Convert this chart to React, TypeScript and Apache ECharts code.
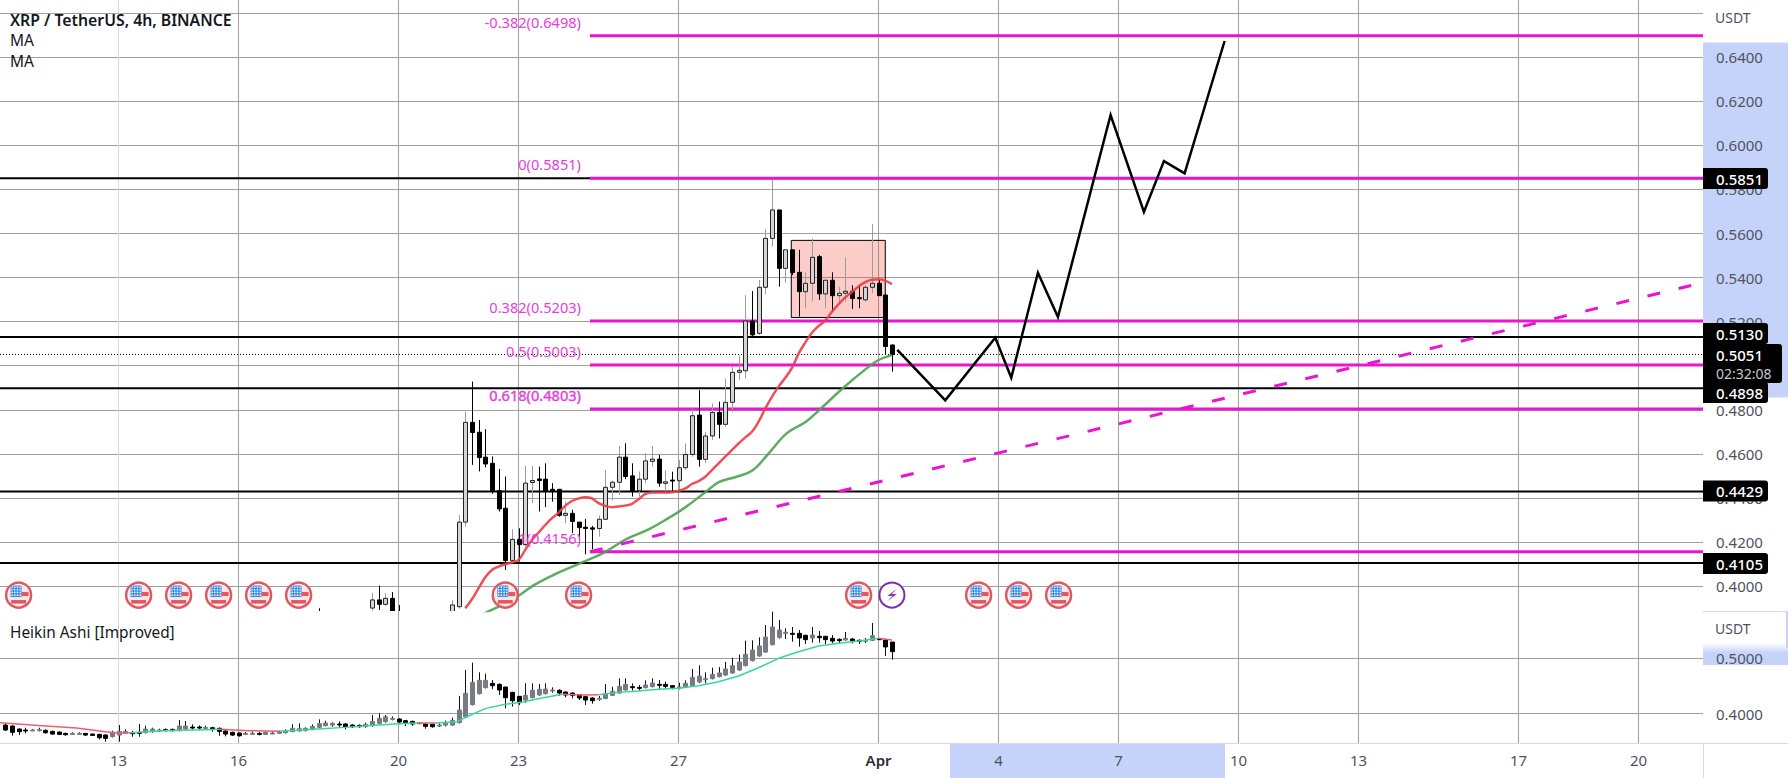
import React, { useEffect, useRef } from "react";
import * as echarts from "echarts";

const FONT = '"Noto Sans", "Open Sans", sans-serif';

// x is the 4h bar number, bar 0 = 13 March 00:00
const tickBars = [0, 18, 42, 60, 84, 114, 132, 150, 168, 186, 210, 228];
const tickLabels = ["13", "16", "20", "23", "27", "Apr", "4", "7", "10", "13", "17", "20"];
const priceTicks = [0.4, 0.42, 0.44, 0.46, 0.48, 0.5, 0.52, 0.54, 0.56, 0.58, 0.6, 0.62, 0.64, 0.66];
const priceLabels = [0.4, 0.42, 0.44, 0.46, 0.48, 0.5, 0.52, 0.54, 0.56, 0.58, 0.6, 0.62, 0.64];
const subTicks = [0.4, 0.5];

const fibLevels = [0.6498, 0.5851, 0.5203, 0.5003, 0.4803, 0.4156];
const fibLabels = ["-0.382(0.6498)", "0(0.5851)", "0.382(0.5203)", "0.5(0.5003)", "0.618(0.4803)", "1(0.4156)"];
const blackLevels = [0.5851, 0.513, 0.4898, 0.4429, 0.4105];
const lastPrice = 0.5051;
const trendLine = [[70.7, 0.4156], [236.7, 0.537]];
const forecast = [
  [116.8, 0.5072], [124, 0.4843], [131.5, 0.5127], [133.9, 0.4946], [137.9, 0.5422], [140.9, 0.5221],
  [148.8, 0.6138], [153.8, 0.5698], [156.8, 0.5929], [159.9, 0.5873], [165.9, 0.6474],
];
const boxArea = [[100.9, 0.5569, 115, 0.5219]];
const usEvents = [-15, 3, 9, 15, 21, 27, 58, 69, 111, 129, 135, 141];
const boltEvents = [116];

// [bar, open, close, low, high]
const mainBars = [
  [30, 0.386, 0.384, 0.383, 0.3899],
  [38, 0.39, 0.3937, 0.388, 0.397],
  [39, 0.3937, 0.3917, 0.3891, 0.4002],
  [40, 0.3917, 0.3944, 0.391, 0.3967],
  [41, 0.3944, 0.387, 0.385, 0.3972],
  [42, 0.388, 0.386, 0.385, 0.3914],
  [50, 0.385, 0.3914, 0.384, 0.3937],
  [51, 0.3906, 0.429, 0.3897, 0.4323],
  [52, 0.429, 0.4743, 0.427, 0.4792],
  [53, 0.4743, 0.4697, 0.455, 0.4928],
  [54, 0.4698, 0.4583, 0.452, 0.4754],
  [55, 0.4585, 0.4554, 0.4539, 0.4712],
  [56, 0.4557, 0.4433, 0.4418, 0.4588],
  [57, 0.4433, 0.435, 0.4338, 0.4532],
  [58, 0.4353, 0.4116, 0.4073, 0.4497],
  [59, 0.4116, 0.4212, 0.4103, 0.4258],
  [60, 0.4212, 0.4188, 0.4111, 0.4262],
  [61, 0.4188, 0.4467, 0.4179, 0.4545],
  [62, 0.447, 0.4479, 0.4376, 0.4545],
  [63, 0.4486, 0.4479, 0.4338, 0.4542],
  [64, 0.4485, 0.4433, 0.4358, 0.4557],
  [65, 0.4439, 0.4433, 0.4383, 0.4467],
  [66, 0.4439, 0.4321, 0.4315, 0.4439],
  [67, 0.4321, 0.433, 0.4285, 0.4383],
  [68, 0.433, 0.4293, 0.424, 0.4346],
  [69, 0.429, 0.4265, 0.4217, 0.429],
  [70, 0.4267, 0.4261, 0.4144, 0.4305],
  [71, 0.4264, 0.4258, 0.4167, 0.4273],
  [72, 0.4261, 0.4303, 0.4224, 0.432],
  [73, 0.4303, 0.4448, 0.43, 0.4527],
  [74, 0.4448, 0.4471, 0.4388, 0.4479],
  [75, 0.4471, 0.4585, 0.4414, 0.4636],
  [76, 0.4585, 0.4497, 0.4485, 0.4648],
  [77, 0.45, 0.4433, 0.4406, 0.4557],
  [78, 0.4433, 0.4485, 0.4406, 0.452],
  [79, 0.4485, 0.4568, 0.4467, 0.4603],
  [80, 0.4566, 0.4576, 0.4542, 0.4636],
  [81, 0.4576, 0.4467, 0.4451, 0.4595],
  [82, 0.4466, 0.4473, 0.4428, 0.4526],
  [83, 0.4481, 0.4479, 0.4428, 0.4519],
  [84, 0.4478, 0.4537, 0.4436, 0.4572],
  [85, 0.4537, 0.4597, 0.4526, 0.4647],
  [86, 0.4597, 0.4773, 0.4587, 0.4806],
  [87, 0.4776, 0.4575, 0.4542, 0.489],
  [88, 0.4575, 0.4681, 0.4557, 0.47],
  [89, 0.4681, 0.4788, 0.4663, 0.4829],
  [90, 0.4788, 0.4734, 0.467, 0.4837],
  [91, 0.4734, 0.4834, 0.4723, 0.4942],
  [92, 0.4834, 0.497, 0.4791, 0.4995],
  [93, 0.497, 0.4979, 0.4935, 0.5048],
  [94, 0.4977, 0.5203, 0.4942, 0.5321],
  [95, 0.5203, 0.514, 0.5125, 0.5339],
  [96, 0.5147, 0.5356, 0.514, 0.5389],
  [97, 0.5356, 0.5578, 0.5324, 0.5619],
  [98, 0.5578, 0.5707, 0.5541, 0.5846],
  [99, 0.5707, 0.5442, 0.5359, 0.5707],
  [100, 0.5442, 0.5526, 0.5377, 0.5526],
  [101, 0.5526, 0.5423, 0.5412, 0.5526],
  [102, 0.5424, 0.5336, 0.5223, 0.5526],
  [103, 0.5336, 0.5374, 0.5261, 0.5424],
  [104, 0.5374, 0.5492, 0.5291, 0.5578],
  [105, 0.5495, 0.5326, 0.5299, 0.5503],
  [106, 0.5326, 0.5388, 0.5261, 0.5388],
  [107, 0.5388, 0.5318, 0.5246, 0.5424],
  [108, 0.5318, 0.5329, 0.5283, 0.5359],
  [109, 0.5329, 0.5338, 0.5291, 0.5492],
  [110, 0.5338, 0.5305, 0.5258, 0.5365],
  [111, 0.5309, 0.5308, 0.5261, 0.5367],
  [112, 0.5299, 0.5356, 0.5291, 0.5367],
  [113, 0.5356, 0.5374, 0.5329, 0.5643],
  [114, 0.5374, 0.5318, 0.5318, 0.5389],
  [115, 0.5321, 0.5087, 0.5049, 0.5321],
  [116, 0.5094, 0.5051, 0.4973, 0.5097],
];

const redMA = [
  [52, 0.3899], [53, 0.394], [54, 0.399], [55, 0.404], [56, 0.4073], [57, 0.4088], [58, 0.4099], [59, 0.4108],
  [60, 0.4119], [61, 0.4164], [62, 0.4209], [63, 0.4243], [64, 0.4277], [65, 0.4308], [66, 0.4333], [67, 0.4364],
  [68, 0.4386], [69, 0.4398], [70, 0.4403], [71, 0.4398], [72, 0.4376], [73, 0.4364], [74, 0.4358], [75, 0.4361],
  [76, 0.4365], [77, 0.4373], [78, 0.4394], [79, 0.4417], [80, 0.4424], [81, 0.4424], [82, 0.4424], [83, 0.4426],
  [84, 0.4432], [85, 0.4443], [86, 0.4463], [87, 0.4476], [88, 0.4496], [89, 0.4526], [90, 0.4557], [91, 0.4587],
  [92, 0.4617], [93, 0.4647], [94, 0.4675], [95, 0.47], [96, 0.4746], [97, 0.4806], [98, 0.4859], [99, 0.4905],
  [100, 0.4945], [101, 0.499], [102, 0.5055], [103, 0.5105], [104, 0.515], [105, 0.518], [106, 0.5205], [107, 0.5245],
  [108, 0.528], [109, 0.531], [110, 0.5335], [111, 0.536], [112, 0.538], [113, 0.539], [114, 0.5392], [115, 0.5386],
  [116, 0.537],
];
const greenMA = [
  [53, 0.385], [55.7, 0.3888], [59.4, 0.3944], [62.3, 0.4004], [65.2, 0.405], [69.2, 0.4103], [72.9, 0.4153],
  [76.1, 0.4212], [79.5, 0.4257], [82.4, 0.4307], [85, 0.4357], [88.1, 0.4428], [90.1, 0.4473], [92.7, 0.4496],
  [95, 0.4523], [97.3, 0.4594], [100.2, 0.4693], [103.1, 0.4746], [105.1, 0.4799], [108.8, 0.4902], [112.2, 0.4988],
  [114, 0.5026], [116, 0.5048],
];

// Heikin Ashi, bars -17 to 116: [open, close, low, high]
const haFirstBar = -17;
const haBars = [
  [0.3791, 0.3701, 0.3683, 0.3822], [0.3773, 0.3659, 0.3598, 0.3791], [0.3719, 0.3671, 0.361, 0.3731], [0.3701, 0.3683, 0.364, 0.3743],
  [0.3695, 0.3701, 0.3683, 0.3719], [0.3701, 0.3707, 0.3677, 0.3743], [0.3695, 0.3652, 0.3634, 0.3713], [0.3677, 0.3628, 0.3616, 0.3689],
  [0.3665, 0.3622, 0.361, 0.3671], [0.364, 0.3616, 0.3598, 0.3652], [0.3634, 0.364, 0.3622, 0.3659], [0.3634, 0.364, 0.3622, 0.3659],
  [0.364, 0.361, 0.3592, 0.3646], [0.3628, 0.3604, 0.3592, 0.364], [0.3622, 0.3562, 0.3532, 0.3634], [0.361, 0.355, 0.3489, 0.3628],
  [0.358, 0.3652, 0.3568, 0.3689], [0.361, 0.3677, 0.3489, 0.3791], [0.364, 0.3677, 0.3628, 0.3713], [0.3652, 0.3646, 0.358, 0.3689],
  [0.3659, 0.3652, 0.358, 0.381], [0.3652, 0.3719, 0.364, 0.3779], [0.3671, 0.3719, 0.3652, 0.3743], [0.3695, 0.3701, 0.3665, 0.3725],
  [0.3707, 0.3701, 0.3677, 0.3731], [0.3713, 0.3689, 0.3677, 0.3725], [0.3689, 0.3773, 0.3677, 0.3882], [0.3719, 0.3773, 0.3701, 0.3864],
  [0.3755, 0.3749, 0.3707, 0.3804], [0.3755, 0.3737, 0.3713, 0.3785], [0.3743, 0.3749, 0.3719, 0.3779], [0.3743, 0.3713, 0.3671, 0.3761],
  [0.3731, 0.3677, 0.3598, 0.3749], [0.3683, 0.3628, 0.3586, 0.3701], [0.3659, 0.361, 0.3592, 0.3671], [0.3646, 0.3598, 0.358, 0.3659],
  [0.3634, 0.364, 0.361, 0.3665], [0.3634, 0.364, 0.3616, 0.3677], [0.364, 0.3634, 0.3604, 0.3671], [0.3622, 0.3659, 0.361, 0.3677],
  [0.364, 0.3646, 0.3628, 0.3671], [0.364, 0.3677, 0.3628, 0.3689], [0.3652, 0.3689, 0.364, 0.3713], [0.3671, 0.3731, 0.3665, 0.3804],
  [0.3683, 0.3725, 0.3677, 0.3822], [0.3689, 0.3731, 0.3677, 0.3749], [0.3707, 0.3767, 0.3701, 0.3804], [0.3749, 0.3816, 0.3737, 0.3894],
  [0.3779, 0.3828, 0.3767, 0.387], [0.3791, 0.3822, 0.3761, 0.384], [0.381, 0.3804, 0.3749, 0.3858], [0.381, 0.3761, 0.3713, 0.3828],
  [0.3791, 0.3761, 0.3737, 0.3804], [0.3785, 0.3761, 0.3743, 0.3804], [0.3761, 0.3804, 0.3743, 0.3834], [0.3779, 0.3858, 0.3761, 0.3973],
  [0.3822, 0.3912, 0.3804, 0.4003], [0.3852, 0.3942, 0.3834, 0.3973], [0.3906, 0.3912, 0.3876, 0.3948], [0.39, 0.3846, 0.3804, 0.3912],
  [0.387, 0.3822, 0.3773, 0.3882], [0.3858, 0.381, 0.3779, 0.387], [0.3828, 0.3834, 0.3804, 0.3846], [0.381, 0.3767, 0.3725, 0.3822],
  [0.3804, 0.3761, 0.3743, 0.3816], [0.3785, 0.3791, 0.3755, 0.3822], [0.3791, 0.3828, 0.3767, 0.387], [0.3791, 0.3876, 0.3779, 0.3924],
  [0.3834, 0.4063, 0.3822, 0.4317], [0.3942, 0.4365, 0.393, 0.4788], [0.416, 0.4565, 0.4148, 0.4921], [0.4359, 0.4601, 0.4347, 0.4746],
  [0.4468, 0.4601, 0.4456, 0.4722], [0.4546, 0.4504, 0.4438, 0.4607], [0.4528, 0.4426, 0.4335, 0.4546], [0.448, 0.4287, 0.4093, 0.4486],
  [0.4383, 0.4232, 0.4124, 0.4395], [0.4311, 0.4196, 0.4154, 0.4317], [0.4244, 0.4329, 0.4196, 0.4546], [0.4287, 0.442, 0.4275, 0.4546],
  [0.4335, 0.4438, 0.4323, 0.4534], [0.4359, 0.4444, 0.4347, 0.4546], [0.442, 0.4426, 0.4377, 0.4474], [0.442, 0.4371, 0.4323, 0.4438],
  [0.4389, 0.4335, 0.4293, 0.4401], [0.4371, 0.4329, 0.4275, 0.4383], [0.4341, 0.4281, 0.4244, 0.4353], [0.4305, 0.4244, 0.4154, 0.4317],
  [0.4281, 0.4232, 0.4178, 0.4293], [0.4269, 0.4275, 0.4232, 0.4317], [0.4269, 0.4359, 0.4263, 0.4534], [0.4329, 0.4401, 0.4317, 0.4486],
  [0.4371, 0.4492, 0.4359, 0.4637], [0.4426, 0.4528, 0.4414, 0.4637], [0.4486, 0.448, 0.4414, 0.4546], [0.4474, 0.4468, 0.4414, 0.4516],
  [0.4468, 0.4516, 0.4456, 0.4601], [0.4486, 0.4552, 0.4474, 0.4637], [0.4528, 0.451, 0.4438, 0.4607], [0.4528, 0.4492, 0.445, 0.4577],
  [0.4504, 0.4474, 0.4438, 0.4516], [0.4474, 0.448, 0.4438, 0.4558], [0.4474, 0.4546, 0.4462, 0.4601], [0.4504, 0.4655, 0.4492, 0.4806],
  [0.4571, 0.4679, 0.4552, 0.4873], [0.4625, 0.4631, 0.4546, 0.4746], [0.4631, 0.471, 0.4619, 0.483], [0.4667, 0.4734, 0.4655, 0.4842],
  [0.4697, 0.4806, 0.4685, 0.4933], [0.4734, 0.4867, 0.4722, 0.5012], [0.4788, 0.4933, 0.4776, 0.5066], [0.4867, 0.5072, 0.4854, 0.532],
  [0.4957, 0.515, 0.4945, 0.5326], [0.5042, 0.5223, 0.503, 0.538], [0.5114, 0.5386, 0.5102, 0.5603], [0.5247, 0.5567, 0.5235, 0.5845],
  [0.538, 0.5513, 0.5356, 0.5694], [0.5452, 0.5471, 0.535, 0.5543], [0.5452, 0.5446, 0.5301, 0.5567], [0.5452, 0.5368, 0.5211, 0.5513],
  [0.5416, 0.5338, 0.5259, 0.5428], [0.5368, 0.5422, 0.5283, 0.5567], [0.5398, 0.5374, 0.5283, 0.5495], [0.5398, 0.5338, 0.5259, 0.541],
  [0.5362, 0.5313, 0.5271, 0.5422], [0.5344, 0.532, 0.5259, 0.5362], [0.5332, 0.5362, 0.532, 0.5477], [0.535, 0.5313, 0.5271, 0.5368],
  [0.5326, 0.5307, 0.5259, 0.5344], [0.532, 0.5326, 0.5277, 0.5368], [0.5326, 0.541, 0.5313, 0.564], [0.5356, 0.535, 0.5338, 0.5368],
  [0.5332, 0.5205, 0.5042, 0.5344], [0.5295, 0.512, 0.4975, 0.5295],
];

// Heikin Ashi moving average; gaps separate the falling (red) and rising (green) stretches
const haRed = [
  [-17.8, 0.3834], [-12, 0.3785], [-6.3, 0.3737], [-2, 0.3671], [0, 0.3646], [1.7, 0.3652], [null, null],
  [15.2, 0.3713], [19.5, 0.3689], [24.1, 0.3677], [null, null],
  [44.8, 0.3828], [47.6, 0.3828], [null, null],
  [66.6, 0.4347], [70, 0.4335], [72, 0.4341], [null, null],
  [114, 0.5362], [116, 0.5332],
];
const haGreen = [
  [1.7, 0.3652], [5.2, 0.3677], [9.2, 0.3695], [13.2, 0.3707], [15.2, 0.3713], [null, null],
  [24.1, 0.3677], [29.9, 0.3719], [33.9, 0.3749], [37.9, 0.3785], [41.9, 0.3816], [44.8, 0.3828], [null, null],
  [47.6, 0.3828], [50.8, 0.3852], [52.8, 0.3973], [55.1, 0.4093], [58, 0.4166], [60.8, 0.4214], [63.7, 0.4287], [66.6, 0.4347], [null, null],
  [72, 0.4341], [75, 0.4383], [78, 0.4407], [81, 0.4438], [84, 0.4456], [87, 0.4504], [90, 0.4577], [93, 0.4679],
  [96, 0.483], [99, 0.5], [102, 0.512], [105, 0.5223], [108, 0.5271], [111, 0.5313], [114, 0.5362],
];

const X_MIN = -17.79;
const X_MAX = 237.66;
const FIB_START = 70.7;
const FIB_LABEL_X = 69.36;
const MAGENTA = "#ea14d2";
const GRID = "#a0a0a0";
const AXIS = "#d9d9d9";
const BLUE = "#c5d3fb";
const TEXT = "#50535e";

function App() {
  const ref = useRef<HTMLDivElement>(null);
  useEffect(() => {
    const chart = echarts.init(ref.current!, null, { renderer: "svg" });

    const candleItem = (params: any, api: any, sub: boolean) => {
      const k = api.value(0), o = api.value(1), c = api.value(2), l = api.value(3), h = api.value(4);
      const x = Math.round(api.coord([k, o])[0]);
      const up = c >= o;
      const yO = api.coord([k, o])[1], yC = api.coord([k, c])[1];
      const yL = api.coord([k, l])[1], yH = api.coord([k, h])[1];
      const top = Math.min(yO, yC);
      const ht = Math.max(Math.abs(yO - yC), 1);
      const wickColor = sub ? "#111" : up ? "#9c9c9c" : "#000";
      const fill = up ? (sub ? "#787b86" : "#d4d4d4") : "#000";
      const stroke = up ? (sub ? "#787b86" : "#222") : "#000";
      return {
        type: "group",
        children: [
          { type: "line", shape: { x1: x + 0.5, y1: yH, x2: x + 0.5, y2: yL }, style: { stroke: wickColor, lineWidth: 1 } },
          { type: "rect", shape: { x: x - 1.5, y: top, width: 4, height: ht }, style: { fill, stroke, lineWidth: 1 } },
        ],
      };
    };

    const flagItem = (params: any, api: any) => {
      const p = api.coord([api.value(0), 0.3959]);
      const red = "#e2565f";
      const dots: any[] = [];
      for (let i = 0; i < 4; i++) for (let j = 0; j < 4; j++) {
        dots.push({ type: "circle", shape: { cx: -6.6 + i * 2.7, cy: -8 + j * 2.7, r: 0.75 }, style: { fill: "#fff" } });
      }
      return {
        type: "group", x: p[0], y: p[1],
        children: [
          { type: "circle", shape: { cx: 0, cy: 0, r: 12.5 }, style: { fill: "#fff", stroke: red, lineWidth: 2.5 } },
          { type: "circle", shape: { cx: 0, cy: 0, r: 10.5 }, style: { fill: "#fbe6e6" } },
          { type: "rect", shape: { x: -8, y: -9.5, width: 11, height: 11.5 }, style: { fill: "#3d8fe6" } },
          ...dots,
          { type: "rect", shape: { x: 3, y: -3, width: 7, height: 4 }, style: { fill: red } },
          { type: "rect", shape: { x: -7.5, y: 5, width: 15, height: 3.5 }, style: { fill: red } },
        ],
      };
    };

    const boltItem = (params: any, api: any) => {
      const p = api.coord([api.value(0), 0.3959]);
      return {
        type: "group", x: p[0], y: p[1],
        children: [
          { type: "circle", shape: { cx: 0, cy: 0, r: 12.5 }, style: { fill: "#fff", stroke: "#7a2fb0", lineWidth: 2 } },
          { type: "polygon", shape: { points: [[5, -6.5], [-4.5, 1], [0.5, 1], [-5, 6.5], [5, -1], [0, -1]] }, style: { fill: "#8e35c4" } },
        ],
      };
    };

    const levelSeries = (v: number, from: number, color: string, width: number, z: number) => ({
      type: "line", xAxisIndex: 0, yAxisIndex: 0, showSymbol: false, silent: true, z,
      data: [[from, v], [X_MAX, v]],
      lineStyle: { color, width },
    });

    const tag = (y: number, text: string) => [
      { type: "rect", z: 100, shape: { x: 1703, y: y - 10.5, width: 65, height: 21, r: [0, 3, 3, 0] }, style: { fill: "#000" } },
      { type: "text", z: 101, x: 1716, y, style: { text, fill: "#fff", font: `500 15px ${FONT}`, textVerticalAlign: "middle" } },
    ];
    const label = (x: number, y: number, text: string, font: string, fill: string) =>
      ({ type: "text", z: 101, x, y, style: { text, fill, font, textVerticalAlign: "middle" } });

    chart.setOption({
      animation: false,
      backgroundColor: "#fff",
      grid: [
        { left: 0, top: 0, width: 1703, height: 611 },
        { left: 0, top: 611, width: 1703, height: 132 },
      ],
      xAxis: [0, 1].map((i) => ({
        type: "value", gridIndex: i, min: X_MIN, max: X_MAX, z: 1,
        axisLine: { show: i === 1, lineStyle: { color: AXIS } },
        axisTick: { show: false, customValues: tickBars },
        splitLine: { show: true, lineStyle: { color: GRID, width: 1 } },
        axisLabel: {
          show: i === 1, customValues: tickBars, margin: 9, fontFamily: FONT, fontSize: 15, color: TEXT,
          formatter: (v: number) => {
            const s = tickLabels[tickBars.indexOf(v)];
            return s === "Apr" ? "{b|Apr}" : s;
          },
          rich: { b: { fontFamily: FONT, fontSize: 15, fontWeight: 600, color: "#2a2e39" } },
        },
      })),
      yAxis: [
        {
          type: "value", gridIndex: 0, position: "right", min: 0.38866, max: 0.66601, z: 1,
          axisLine: { show: true, lineStyle: { color: AXIS } },
          axisTick: { show: false, customValues: priceTicks },
          splitLine: { show: true, lineStyle: { color: GRID, width: 1 } },
          axisLabel: { customValues: priceLabels, margin: 13, fontFamily: FONT, fontSize: 15, color: TEXT, formatter: (v: number) => v.toFixed(4) },
        },
        {
          type: "value", gridIndex: 1, position: "right", min: 0.3466, max: 0.5857, z: 1,
          axisLine: { show: true, lineStyle: { color: AXIS } },
          axisTick: { show: false, customValues: subTicks },
          splitLine: { show: true, lineStyle: { color: GRID, width: 1 } },
          axisLabel: { customValues: subTicks, margin: 13, fontFamily: FONT, fontSize: 15, color: TEXT, formatter: (v: number) => v.toFixed(4) },
        },
      ],
      series: [
        ...blackLevels.map((v) => levelSeries(v, X_MIN, "#000", 2, 3)),
        {
          type: "line", xAxisIndex: 0, yAxisIndex: 0, showSymbol: false, silent: true, z: 3,
          data: [[X_MIN, lastPrice], [X_MAX, lastPrice]],
          lineStyle: { color: "#000", width: 1, type: [1, 2] },
        },
        ...fibLevels.map((v) => levelSeries(v, FIB_START, MAGENTA, 3, 4)),
        {
          type: "custom", xAxisIndex: 0, yAxisIndex: 0, z: 5, silent: true, clip: true,
          data: boxArea, encode: { x: [0, 2], y: [1, 3] },
          renderItem: (params: any, api: any) => {
            const a = api.coord([api.value(0), api.value(1)]);
            const b = api.coord([api.value(2), api.value(3)]);
            return { type: "rect", shape: { x: a[0], y: a[1], width: b[0] - a[0], height: b[1] - a[1] }, style: { fill: "rgba(244,67,54,0.27)", stroke: "#000", lineWidth: 1 } };
          },
        },
        {
          type: "custom", name: "XRP / TetherUS", xAxisIndex: 0, yAxisIndex: 0, z: 6, clip: true, silent: true,
          data: mainBars, encode: { x: 0, y: [1, 2, 3, 4] },
          renderItem: (p: any, api: any) => candleItem(p, api, false),
        },
        {
          type: "line", name: "MA", xAxisIndex: 0, yAxisIndex: 0, showSymbol: false, silent: true, z: 7, smooth: 0.4,
          data: redMA, lineStyle: { color: "#ee3b47", width: 2.5, opacity: 0.9 },
        },
        {
          type: "line", name: "MA", xAxisIndex: 0, yAxisIndex: 0, showSymbol: false, silent: true, z: 7, smooth: 0.4,
          data: greenMA, lineStyle: { color: "#4ba351", width: 2.5, opacity: 0.9 },
        },
        {
          type: "line", xAxisIndex: 0, yAxisIndex: 0, showSymbol: false, silent: true, z: 8,
          data: trendLine, lineStyle: { color: MAGENTA, width: 3, type: [13, 19], cap: "butt" },
        },
        {
          type: "line", xAxisIndex: 0, yAxisIndex: 0, showSymbol: false, silent: true, z: 8,
          data: forecast, lineStyle: { color: "#000", width: 2.5, join: "miter" },
        },
        {
          type: "custom", xAxisIndex: 0, yAxisIndex: 0, z: 9, silent: true,
          data: fibLevels.map((v) => [FIB_LABEL_X, v]),
          encode: { x: 0, y: 1 },
          renderItem: (params: any, api: any) => {
            const p = api.coord([api.value(0), api.value(1)]);
            const t = fibLabels[params.dataIndex];
            return {
              type: "text", x: p[0], y: p[1] - 14,
              style: {
                text: t, fill: "#e63ddb", font: `14.6px ${FONT}`, textAlign: "right", textVerticalAlign: "middle",
                ...(t.startsWith("0.618") ? { stroke: "#e63ddb", lineWidth: 0.4 } : {}),
              },
            };
          },
        },
        {
          type: "custom", xAxisIndex: 0, yAxisIndex: 0, z: 10, silent: true, clip: false,
          data: usEvents.map((k) => [k, 0.3959]), encode: { x: 0, y: 1 },
          renderItem: flagItem,
        },
        {
          type: "custom", xAxisIndex: 0, yAxisIndex: 0, z: 10, silent: true, clip: false,
          data: boltEvents.map((k) => [k, 0.3959]), encode: { x: 0, y: 1 },
          renderItem: boltItem,
        },
        {
          type: "custom", name: "Heikin Ashi [Improved]", xAxisIndex: 1, yAxisIndex: 1, z: 6, clip: true, silent: true,
          data: haBars.map((b, i) => [haFirstBar + i, ...b]), encode: { x: 0, y: [1, 2, 3, 4] },
          renderItem: (p: any, api: any) => candleItem(p, api, true),
        },
        {
          type: "line", xAxisIndex: 1, yAxisIndex: 1, showSymbol: false, silent: true, z: 7, connectNulls: false,
          data: haRed, lineStyle: { color: "#ec5f6d", width: 1.5 },
        },
        {
          type: "line", xAxisIndex: 1, yAxisIndex: 1, showSymbol: false, silent: true, z: 7, connectNulls: false,
          data: haGreen, lineStyle: { color: "#36d99a", width: 1.5 },
        },
      ],
      graphic: { elements: [
        { type: "rect", z: -1, shape: { x: 1703, y: 42.5, width: 85, height: 355 }, style: { fill: BLUE } },
        { type: "rect", z: -1, shape: { x: 950, y: 743, width: 275, height: 35 }, style: { fill: BLUE } },
        {
          type: "rect", z: -1, shape: { x: 1703, y: 643, width: 85, height: 22 },
          style: { fill: new echarts.graphic.LinearGradient(0, 0, 0, 1, [{ offset: 0, color: "#ffffff" }, { offset: 0.45, color: BLUE }, { offset: 1, color: BLUE }]) },
        },
        { type: "rect", z: -1, shape: { x: 1786, y: 612, width: 2, height: 36 }, style: { fill: BLUE } },
        { type: "line", z: 2, shape: { x1: 1703.5, y1: 743, x2: 1703.5, y2: 778 }, style: { stroke: AXIS, lineWidth: 1 } },
        { type: "line", z: 2, shape: { x1: 1703, y1: 611.5, x2: 1788, y2: 611.5 }, style: { stroke: AXIS, lineWidth: 1 } },
        { type: "line", z: 2, shape: { x1: 1703, y1: 743.5, x2: 1788, y2: 743.5 }, style: { stroke: AXIS, lineWidth: 1 } },
        label(10, 20, "XRP / TetherUS, 4h, BINANCE", `600 15.8px ${FONT}`, "#131722"),
        label(10, 40, "MA", `15.5px ${FONT}`, "#131722"),
        label(10, 61, "MA", `15.5px ${FONT}`, "#131722"),
        label(10, 632, "Heikin Ashi [Improved]", `15.4px ${FONT}`, "#131722"),
        label(1715, 17, "USDT", `14px ${FONT}`, TEXT),
        label(1715, 628, "USDT", `14px ${FONT}`, TEXT),
        ...tag(178.5, "0.5851"),
        ...tag(333.5, "0.5130"),
        ...tag(392.5, "0.4898"),
        ...tag(491, "0.4429"),
        ...tag(563.5, "0.4105"),
        { type: "rect", z: 100, shape: { x: 1703, y: 344, width: 79, height: 39, r: [0, 3, 3, 0] }, style: { fill: "#000" } },
        label(1716, 355, "0.5051", `500 15px ${FONT}`, "#fff"),
        label(1716, 373, "02:32:08", `14px ${FONT}`, "#c8c8c8"),
      ] },
    });
    return () => chart.dispose();
  }, []);
  return <div ref={ref} style={{ position: "absolute", left: 0, top: 0, width: 1788, height: 778 }} />;
}

export default App;
